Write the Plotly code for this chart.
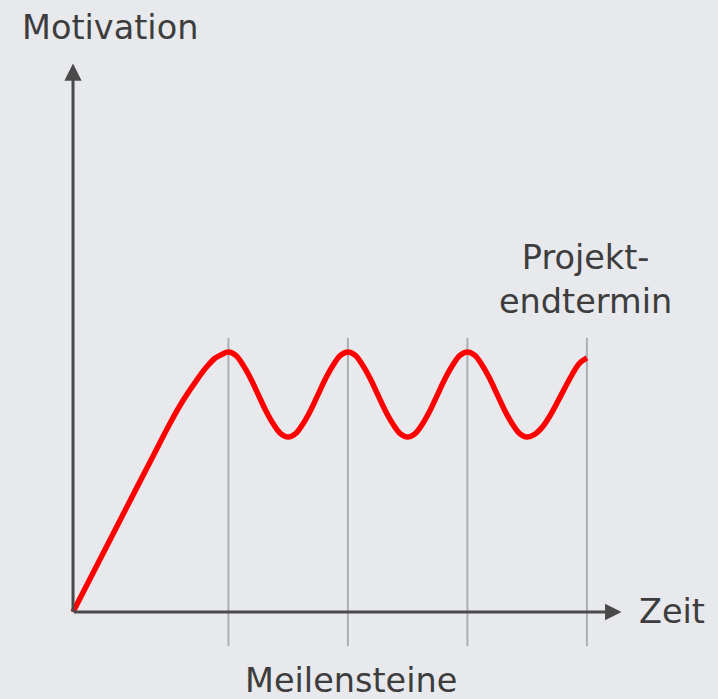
import plotly.graph_objects as go

# Motivation curve, points
# (time units: one milestone period = 1; motivation units: peak = 1)
rise_x = [0.0, 0.538, 0.667, 0.812, 0.923, 1.035, 1.119, 1.188, 1.243, 1.3]
rise_y = [0.0, 0.482, 0.597, 0.726, 0.815, 0.892, 0.943, 0.976, 0.990, 1.0]

wave_x = [1.3625, 1.425, 1.4875, 1.55, 1.6125, 1.675, 1.7375, 1.8,
          1.8625, 1.925, 1.9875, 2.05, 2.1125, 2.175, 2.2375, 2.3,
          2.3625, 2.425, 2.4875, 2.55, 2.6125, 2.675, 2.7375, 2.8,
          2.8625, 2.925, 2.9875, 3.05, 3.1125, 3.175, 3.2375, 3.3,
          3.3625, 3.425, 3.4875, 3.55, 3.6125, 3.675, 3.7375, 3.8,
          3.8625, 3.925, 3.9875, 4.05, 4.1125, 4.175, 4.2375, 4.3]
wave_y = [0.987, 0.948, 0.897, 0.836, 0.775, 0.724, 0.686, 0.673,
          0.686, 0.724, 0.775, 0.836, 0.897, 0.948, 0.987, 1.0,
          0.987, 0.948, 0.897, 0.836, 0.775, 0.724, 0.686, 0.673,
          0.686, 0.724, 0.775, 0.836, 0.897, 0.948, 0.987, 1.0,
          0.987, 0.948, 0.897, 0.836, 0.775, 0.724, 0.686, 0.673,
          0.683, 0.710, 0.752, 0.804, 0.859, 0.912, 0.956, 0.977]

milestones = [1.3, 2.3, 3.3, 4.3]

label_y = "Motivation"
label_x = "Zeit"
label_milestones = "Meilensteine"
label_end = "Projekt-<br>endtermin"

AXIS = "#4a4a4a"
GRID = "#a9aeb7"
TEXT = "#3d3d3d"
BG = "#e8e9ec"
FONT = "DejaVu Sans"

fig = go.Figure()

# milestone lines
for m in milestones:
    fig.add_shape(type="line", x0=m, x1=m, y0=-0.131, y1=1.054,
                  xref="x", yref="y", line=dict(color=GRID, width=2), layer="below")

fig.add_trace(go.Scatter(x=rise_x + wave_x, y=rise_y + wave_y, mode="lines",
                         line=dict(color="#ff0000", width=5.5, shape="spline", smoothing=1),
                         hoverinfo="skip", showlegend=False))

# axes with arrows
fig.add_annotation(x=0, y=2.11, ax=0, ay=-0.005, xref="x", yref="y", axref="x", ayref="y",
                   showarrow=True, arrowhead=2, arrowsize=1.15, arrowwidth=3,
                   arrowcolor=AXIS, text="", standoff=0)
fig.add_annotation(x=4.59, y=0, ax=-0.006, ay=0, xref="x", yref="y", axref="x", ayref="y",
                   showarrow=True, arrowhead=2, arrowsize=1.1, arrowwidth=3,
                   arrowcolor=AXIS, text="", standoff=0)

fnt = dict(family=FONT, size=33.5, color=TEXT)
fig.add_annotation(x=0.31, y=2.25, text=label_y, showarrow=False, font=fnt,
                   xanchor="center", yanchor="middle")
fig.add_annotation(x=5.013, y=0.0, text=label_x, showarrow=False, font=fnt,
                   xanchor="center", yanchor="middle")
fig.add_annotation(x=2.326, y=-0.265, text=label_milestones, showarrow=False, font=fnt,
                   xanchor="center", yanchor="middle")
fig.add_annotation(x=4.285, y=1.277, text=label_end, showarrow=False, font=fnt,
                   xanchor="center", yanchor="middle", align="center")

fig.update_layout(
    width=718, height=699,
    margin=dict(l=0, r=0, t=0, b=0),
    paper_bgcolor=BG, plot_bgcolor=BG,
    xaxis=dict(range=[-0.611, 5.397], visible=False, fixedrange=True),
    yaxis=dict(range=[-0.335, 2.354], visible=False, fixedrange=True),
    showlegend=False,
)

fig.write_html("out.html", config={"displayModeBar": False},
               post_script="document.body.style.margin='0';document.body.style.background='#e8e9ec';")
